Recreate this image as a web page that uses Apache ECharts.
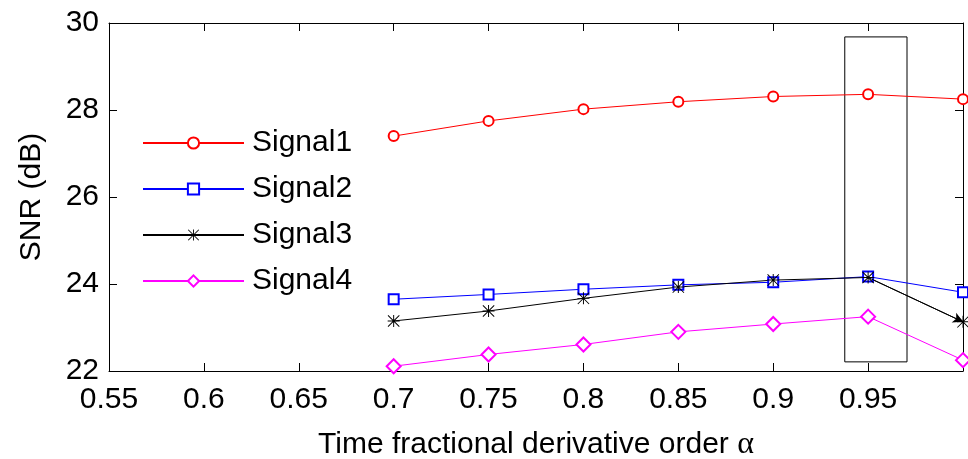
<!DOCTYPE html>
<html><head><meta charset="utf-8">
<script src="https://cdn.jsdelivr.net/npm/echarts@6/dist/echarts.min.js"></script>
<style>html,body{margin:0;padding:0;background:#fff}#c{width:968px;height:459px}</style>
</head><body><div id="c"></div>
<script>
const alpha = [0.7, 0.75, 0.8, 0.85, 0.9, 0.95, 1.0];
const signal1 = [27.40, 27.75, 28.02, 28.19, 28.31, 28.36, 28.25];
const signal2 = [23.65, 23.76, 23.88, 23.98, 24.04, 24.17, 23.81];
const signal3 = [23.15, 23.38, 23.67, 23.93, 24.09, 24.15, 23.13];
const signal4 = [22.11, 22.38, 22.61, 22.90, 23.08, 23.25, 22.25];
const seriesNames = ['Signal1', 'Signal2', 'Signal3', 'Signal4'];
const boxX = [0.9377, 0.9705];
const boxY = [22.21, 29.68];

const FONT = 'Liberation Sans, Arial, sans-serif';
const asterisk = 'path://M9.2 0h1.6v20h-1.6Z M0 9.2h20v1.6h-20Z M1.1 0L20 18.9L18.9 20L0 1.1Z M18.9 0L20 1.1L1.1 20L0 18.9Z';
const pairs = arr => alpha.map((a, i) => [a, arr[i]]);
const fmtX = v => Math.abs(v - 1) < 1e-9 ? '' : String(parseFloat(v.toFixed(2)));

const chart = echarts.init(document.getElementById('c'), null, {renderer: 'canvas'});
const axisCommon = {
  axisLine: {show: true, lineStyle: {color: '#000', width: 1}},
  axisTick: {show: true, inside: true, length: 8, lineStyle: {color: '#000'}},
  splitLine: {show: false}
};
chart.setOption({
  animation: false,
  backgroundColor: '#fff',
  grid: {left: 109, right: 5, top: 23, bottom: 88, containLabel: false, outerBoundsMode: 'none'},
  legend: {
    data: seriesNames,
    orient: 'vertical',
    left: 142, top: 128, padding: 0,
    itemWidth: 101, itemHeight: 14, itemGap: 16,
    textStyle: {fontFamily: FONT, fontSize: 30, color: '#000', padding: [0, 0, 0, 3]}
  },
  xAxis: [
    Object.assign({}, axisCommon, {
      type: 'value', min: 0.55, max: 1.0, interval: 0.05, position: 'bottom',
      name: 'Time fractional derivative order {a|\u03b1}', nameLocation: 'middle', nameGap: 58,
      nameTextStyle: {fontFamily: FONT, fontSize: 30, color: '#000',
        rich: {a: {fontFamily: 'Liberation Serif, DejaVu Serif, serif', fontSize: 32, color: '#000'}}},
      axisLabel: {fontFamily: FONT, fontSize: 30, color: '#000', margin: 14, formatter: fmtX}
    }),
    Object.assign({}, axisCommon, {
      type: 'value', min: 0.55, max: 1.0, interval: 0.05, position: 'top',
      axisLabel: {show: false}
    })
  ],
  yAxis: [
    Object.assign({}, axisCommon, {
      type: 'value', min: 22, max: 30, interval: 2, position: 'left',
      name: 'SNR (dB)', nameLocation: 'middle', nameGap: 62,
      nameTextStyle: {fontFamily: FONT, fontSize: 30, color: '#000'},
      axisLabel: {fontFamily: FONT, fontSize: 30, color: '#000', margin: 10}
    }),
    Object.assign({}, axisCommon, {
      type: 'value', min: 22, max: 30, interval: 2, position: 'right',
      axisLabel: {show: false}
    })
  ],
  series: [
    {name: seriesNames[0], type: 'line', data: pairs(signal1), symbol: 'emptyCircle', symbolSize: 10,
     lineStyle: {color: '#ff0000', width: 1}, itemStyle: {color: '#ff0000', borderWidth: 1}},
    {name: seriesNames[1], type: 'line', data: pairs(signal2), symbol: 'emptyRect', symbolSize: 10,
     lineStyle: {color: '#0000ff', width: 1}, itemStyle: {color: '#0000ff', borderWidth: 1}},
    {name: seriesNames[2], type: 'line', data: pairs(signal3), symbol: asterisk, symbolSize: 12,
     lineStyle: {color: '#000', width: 1}, itemStyle: {color: '#000'},
     markLine: {silent: true, symbol: ['none', 'arrow'], symbolSize: [8, 10],
       lineStyle: {color: '#000', width: 1, type: 'solid'}, label: {show: false},
       data: [[{coord: [alpha[5], signal3[5]]}, {coord: [alpha[6], signal3[6]]}]]}},
    {name: seriesNames[3], type: 'line', data: pairs(signal4), symbol: 'emptyDiamond', symbolSize: 14,
     lineStyle: {color: '#ff00ff', width: 1}, itemStyle: {color: '#ff00ff', borderWidth: 1},
     markArea: {silent: true, itemStyle: {color: 'rgba(0,0,0,0)', borderColor: '#000', borderWidth: 1},
       data: [[{coord: [boxX[0], boxY[1]]}, {coord: [boxX[1], boxY[0]]}]]}}
  ]
});
</script></body></html>
